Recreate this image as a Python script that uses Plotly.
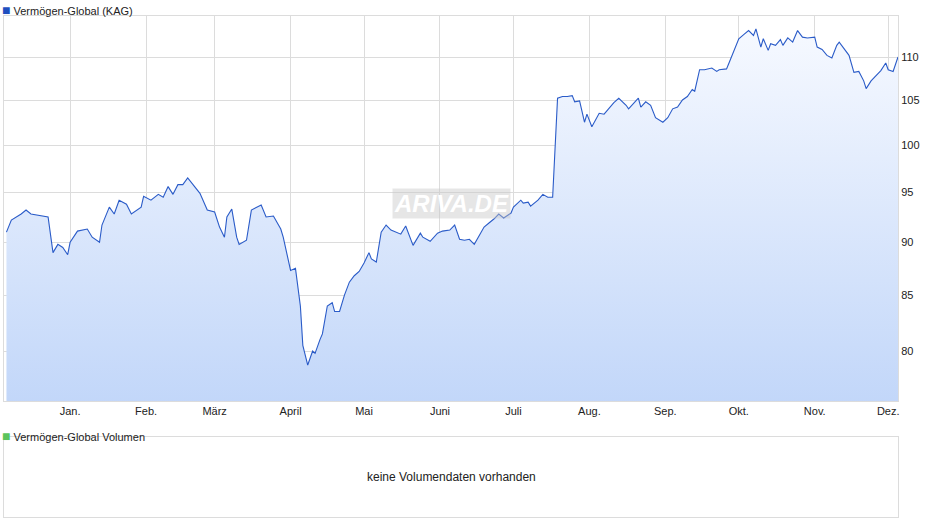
import datetime as dt
import plotly.graph_objects as go

# day offsets from 1 Jan 2021 and fund value
days = [-26, -24, -20, -18, -16, -12, -9, -7, -5, -3, -1, 0, 3, 7, 9, 12, 13, 16, 18, 20,
        23, 25, 29, 30, 33, 36, 38, 40, 42, 44, 46, 48, 51, 53, 56, 59, 61, 63, 64, 66,
        68, 69, 72, 74, 78, 80, 83, 86, 87, 90, 92, 94, 95, 97, 99, 100, 102, 103, 105, 107,
        108, 110, 112, 114, 116, 118, 120, 122, 123, 125, 127, 129, 131, 135, 137, 139, 140, 143, 144, 147,
        150, 152, 155, 157, 159, 161, 163, 165, 166, 169, 171, 173, 175, 177, 180, 181, 184, 185, 187, 188,
        191, 193, 195, 197, 199, 201, 203, 205, 206, 208, 210, 211, 213, 215, 216, 218, 220, 222, 224, 227,
        228, 230, 232, 233, 235, 237, 239, 242, 244, 246, 248, 250, 252, 254, 255, 257, 259, 262, 264, 265,
        268, 269, 271, 273, 275, 277, 279, 280, 282, 283, 285, 286, 288, 290, 291, 293, 295, 297, 299, 301,
        304, 305, 307, 309, 311, 313, 314, 316, 318, 320, 322, 324, 325, 327, 329, 331, 333, 334, 336, 338]
values = [91.0, 92.2, 92.8, 93.2, 92.8, 92.6, 92.5, 89.0, 89.8, 89.5, 88.8, 90.0, 91.1, 91.3, 90.5, 90.0, 91.7, 93.5, 92.8, 94.2,
          93.8, 92.8, 93.5, 94.6, 94.2, 94.8, 94.5, 95.6, 94.8, 95.8, 95.8, 96.5, 95.5, 94.9, 93.2, 93.0, 91.5, 90.5, 92.5, 93.3,
          90.5, 89.8, 90.2, 93.2, 93.7, 92.5, 92.6, 91.3, 90.5, 87.3, 87.5, 84.0, 80.5, 78.8, 80.0, 79.8, 81.0, 81.5, 84.0, 84.3,
          83.5, 83.5, 85.0, 86.2, 86.8, 87.2, 88.0, 89.0, 88.4, 88.1, 91.0, 91.7, 91.2, 90.8, 91.6, 90.4, 89.7, 90.9, 90.5, 90.1,
          90.9, 91.1, 91.2, 91.7, 90.3, 90.2, 90.3, 89.8, 90.2, 91.5, 91.9, 92.3, 92.8, 92.4, 92.9, 93.5, 94.2, 93.9, 94.0, 93.6,
          94.2, 94.8, 94.5, 94.5, 105.2, 105.4, 105.4, 105.5, 104.8, 104.9, 102.5, 103.4, 102.0, 103.0, 103.5, 103.4, 104.1, 104.7, 105.2, 104.4,
          104.0, 104.6, 105.2, 104.2, 104.8, 104.4, 103.0, 102.5, 103.0, 104.0, 104.2, 105.0, 105.4, 106.2, 106.0, 108.5, 108.5, 108.7, 108.3, 108.5,
          108.6, 109.3, 110.8, 112.2, 112.7, 113.2, 112.6, 113.4, 111.2, 112.2, 110.8, 111.6, 111.4, 112.1, 111.4, 112.3, 111.8, 113.2, 112.4, 112.3,
          112.4, 111.2, 110.9, 110.2, 109.9, 111.4, 111.8, 111.0, 110.2, 108.2, 108.3, 107.2, 106.3, 107.2, 107.8, 108.4, 109.3, 108.5, 108.3, 110.0]
month_labels = ["Jan.", "Feb.", "März", "April", "Mai", "Juni", "Juli", "Aug.", "Sep.", "Okt.", "Nov.", "Dez."]
y_ticks = [80, 85, 90, 95, 100, 105, 110]

start = dt.date(2021, 1, 1)
dates = [start + dt.timedelta(days=d) for d in days]
month_starts = [dt.date(2021, m, 1) for m in range(1, 13)]
x0 = start + dt.timedelta(days=-26.6)
x1 = start + dt.timedelta(days=338.6)

fig = go.Figure()
fig.add_trace(go.Scatter(x=[dates[0], dates[-1]], y=[70, 70], mode="lines",
                         line=dict(width=0), hoverinfo="skip", showlegend=False))
fig.add_trace(go.Scatter(
    x=dates, y=values, mode="lines", line=dict(color="#2a5bc8", width=1.1),
    fill="tonexty",
    fillgradient=dict(type="vertical", colorscale=[[0, "#b8d0f8"], [1, "#f6f9ff"]]),
    showlegend=False))

# lower empty volume panel
fig.add_trace(go.Scatter(x=[0], y=[0], xaxis="x2", yaxis="y2", mode="markers",
                         marker=dict(opacity=0), showlegend=False, hoverinfo="skip"))

grid = "#dcdcdc"
xdom = [4 / 940, 898 / 940]
fig.update_layout(
    width=940, height=526, margin=dict(l=0, r=0, t=0, b=0),
    paper_bgcolor="white", plot_bgcolor="white",
    font=dict(family="Liberation Sans, Arial, sans-serif", size=11, color="#222"),
    xaxis=dict(range=[x0, x1], domain=xdom, tickvals=month_starts, ticktext=month_labels,
               showgrid=True, gridcolor=grid, showline=True, linecolor=grid, mirror=True,
               ticks="", anchor="y", layer="above traces", automargin=False),
    yaxis=dict(type="log", domain=[125 / 526, 510 / 526], side="right",
               range=[1.8796, 2.0607], tickvals=y_ticks, showgrid=True, gridcolor=grid,
               showline=True, linecolor=grid, mirror=True, ticks="", zeroline=False,
               layer="above traces", automargin=False),
    xaxis2=dict(range=[0, 1], domain=xdom, anchor="y2", showgrid=False, showticklabels=False,
                showline=True, linecolor=grid, mirror=True, zeroline=False, automargin=False),
    yaxis2=dict(range=[0, 1], domain=[9 / 526, 89 / 526], anchor="x2", showgrid=False,
                showticklabels=False, showline=True, linecolor=grid, mirror=True,
                zeroline=False, automargin=False),
    annotations=[
        dict(text="<span style='color:#1f4fbf;font-size:14px'>■</span> Vermögen-Global (KAG)",
             xref="paper", yref="paper", x=0.0, y=1.0, xanchor="left", yanchor="top",
             showarrow=False, font=dict(size=11)),
        dict(text="<span style='color:#5cc45c;font-size:14px'>■</span> Vermögen-Global Volumen",
             xref="paper", yref="paper", x=0.0, y=100 / 526, xanchor="left", yanchor="top",
             showarrow=False, font=dict(size=11)),
        dict(text="keine Volumendaten vorhanden", xref="x2", yref="y2", x=0.5, y=0.5,
             showarrow=False, font=dict(size=12)),
        dict(text="<b><i>ARIVA.DE</i></b>", xref="paper", yref="paper", x=0.48, y=0.614,
             showarrow=False, font=dict(size=24, color="white"), bgcolor="rgba(200,200,200,0.45)",
             borderpad=1),
    ],
)

fig.write_html("out.html", config={"displayModeBar": False},
               post_script="document.body.style.margin='0';")
